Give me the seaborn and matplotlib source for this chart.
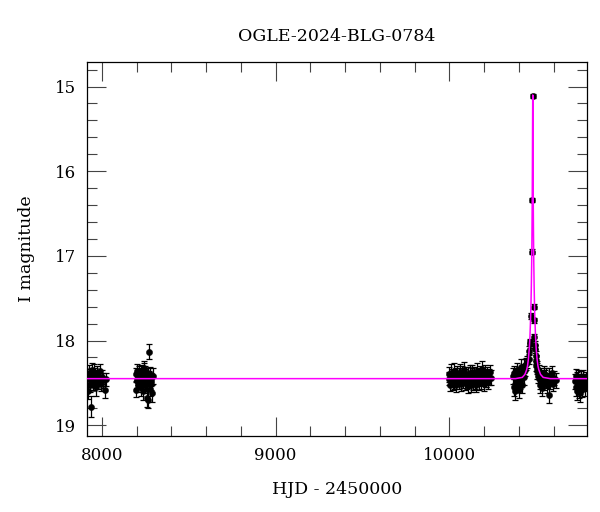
import numpy as np
import pandas as pd
import matplotlib
matplotlib.use("Agg")
from matplotlib import pyplot as plt
from matplotlib.ticker import MultipleLocator
import seaborn as sns

# observing seasons (HJD - 2450000, I mag, error)
t_s1 = [7922, 7925, 7928, 7931, 7934, 7937, 7940, 7943, 7946, 7950, 7953, 7956, 7960,
        7963, 7967, 7970, 7974, 7978, 7983, 7988, 7994, 8000, 8008, 8016, 8025]
m_s1 = [18.60, 18.42, 18.38, 18.47, 18.52, 18.78, 18.40, 18.35, 18.46, 18.50, 18.43, 18.37, 18.48,
        18.41, 18.55, 18.44, 18.39, 18.49, 18.45, 18.36, 18.51, 18.43, 18.47, 18.58, 18.46]
e_s1 = [0.09, 0.08, 0.09, 0.08, 0.09, 0.12, 0.08, 0.09, 0.08, 0.09, 0.08, 0.09, 0.08,
        0.09, 0.10, 0.08, 0.09, 0.08, 0.09, 0.08, 0.09, 0.08, 0.09, 0.10, 0.08]

t_s2 = [8196, 8199, 8202, 8205, 8208, 8211, 8214, 8217, 8220, 8223, 8226, 8229, 8232, 8235,
        8238, 8241, 8244, 8247, 8250, 8253, 8256, 8259, 8262, 8265, 8268, 8271, 8274, 8277,
        8280, 8283, 8286, 8289, 8292, 8203, 8245]
m_s2 = [18.58, 18.40, 18.47, 18.36, 18.52, 18.44, 18.39, 18.49, 18.42, 18.55, 18.37, 18.46, 18.50, 18.41,
        18.60, 18.34, 18.45, 18.53, 18.38, 18.48, 18.43, 18.68, 18.51, 18.40, 18.70, 18.13, 18.44, 18.57,
        18.39, 18.49, 18.46, 18.62, 18.42, 18.48, 18.33]
e_s2 = [0.09, 0.08, 0.09, 0.08, 0.09, 0.08, 0.09, 0.08, 0.09, 0.10, 0.08, 0.09, 0.08, 0.09,
        0.10, 0.08, 0.09, 0.09, 0.08, 0.09, 0.08, 0.10, 0.09, 0.08, 0.10, 0.09, 0.08, 0.09,
        0.08, 0.09, 0.08, 0.10, 0.09, 0.08, 0.09]

t_s3 = [9996, 10000, 10004, 10008, 10012, 10016, 10020, 10024, 10028, 10032, 10036, 10040,
        10044, 10048, 10052, 10056, 10060, 10064, 10068, 10072, 10076, 10080, 10084, 10088,
        10092, 10096, 10100, 10104, 10108, 10112, 10116, 10120, 10124, 10128, 10132, 10136,
        10140, 10144, 10148, 10152, 10156, 10160, 10164, 10168, 10172, 10176, 10180, 10184,
        10188, 10192, 10196, 10200, 10204, 10208, 10212, 10216, 10220, 10226, 10232, 10240]
m_s3 = [18.45, 18.40, 18.52, 18.38, 18.47, 18.43, 18.50, 18.36, 18.48, 18.44, 18.41, 18.53,
        18.39, 18.46, 18.42, 18.49, 18.37, 18.45, 18.51, 18.40, 18.44, 18.47, 18.35, 18.50,
        18.43, 18.39, 18.48, 18.54, 18.41, 18.46, 18.38, 18.45, 18.52, 18.42, 18.37, 18.49,
        18.44, 18.40, 18.47, 18.53, 18.36, 18.45, 18.41, 18.50, 18.43, 18.39, 18.46, 18.48,
        18.34, 18.44, 18.51, 18.42, 18.38, 18.47, 18.45, 18.40, 18.49, 18.43, 18.37, 18.44]
e_s3 = [0.08, 0.09, 0.08, 0.10, 0.08, 0.09, 0.08, 0.10, 0.09, 0.08, 0.09, 0.08,
        0.09, 0.08, 0.10, 0.08, 0.09, 0.08, 0.09, 0.10, 0.08, 0.09, 0.10, 0.08,
        0.09, 0.08, 0.09, 0.08, 0.10, 0.08, 0.09, 0.08, 0.09, 0.10, 0.08, 0.09,
        0.08, 0.09, 0.10, 0.08, 0.09, 0.08, 0.09, 0.08, 0.10, 0.09, 0.08, 0.09,
        0.10, 0.08, 0.09, 0.08, 0.09, 0.08, 0.10, 0.09, 0.08, 0.09, 0.08, 0.09]

t_s4 = [10366, 10370, 10374, 10378, 10382, 10386, 10390, 10394, 10398, 10402, 10406, 10410,
        10414, 10418, 10422, 10426, 10430, 10436, 10442, 10448,
        10456, 10460, 10463, 10466, 10469, 10474, 10476, 10479, 10486, 10488, 10489, 10491,
        10493, 10495, 10497, 10499,
        10502, 10506, 10510, 10514, 10518, 10522, 10526, 10530, 10534, 10538, 10542, 10546,
        10550, 10554, 10558, 10562, 10566, 10570, 10574, 10578, 10584, 10590, 10596, 10604, 10612]
m_s4 = [18.42, 18.55, 18.38, 18.60, 18.47, 18.35, 18.52, 18.44, 18.58, 18.40, 18.49, 18.31,
        18.46, 18.53, 18.37, 18.43, 18.30, 18.35, 18.28, 18.25,
        18.22, 18.12, 18.04, 18.02, 17.71, 16.95, 16.34, 15.11, 17.60, 17.76, 17.96, 18.05,
        18.10, 18.18, 18.24, 18.29,
        18.32, 18.36, 18.42, 18.38, 18.47, 18.53, 18.40, 18.45, 18.56, 18.43, 18.39, 18.50,
        18.44, 18.48, 18.41, 18.52, 18.46, 18.64, 18.42, 18.49, 18.45, 18.38, 18.51, 18.44, 18.47]
e_s4 = [0.09, 0.10, 0.08, 0.10, 0.09, 0.08, 0.09, 0.08, 0.10, 0.09, 0.08, 0.09,
        0.08, 0.09, 0.08, 0.09, 0.08, 0.07, 0.07, 0.07,
        0.06, 0.05, 0.05, 0.04, 0.03, 0.03, 0.02, 0.02, 0.03, 0.03, 0.04, 0.05,
        0.05, 0.06, 0.07, 0.07,
        0.08, 0.09, 0.08, 0.09, 0.10, 0.09, 0.08, 0.09, 0.10, 0.08, 0.09, 0.08,
        0.09, 0.08, 0.09, 0.10, 0.08, 0.10, 0.09, 0.08, 0.09, 0.08, 0.09, 0.08, 0.09]

t_s5 = [10722, 10725, 10728, 10731, 10734, 10737, 10740, 10743, 10746, 10749, 10752, 10755,
        10758, 10761, 10764, 10768, 10772, 10777, 10782, 10787]
m_s5 = [18.48, 18.55, 18.42, 18.60, 18.46, 18.52, 18.44, 18.58, 18.50, 18.47, 18.62, 18.45,
        18.53, 18.49, 18.57, 18.43, 18.51, 18.48, 18.56, 18.46]
e_s5 = [0.09, 0.10, 0.08, 0.10, 0.09, 0.08, 0.09, 0.10, 0.09, 0.08, 0.10, 0.09,
        0.08, 0.09, 0.10, 0.08, 0.09, 0.08, 0.10, 0.09]

# model light curve
t_model = [7900, 10380, 10419, 10434, 10444, 10449, 10454, 10459, 10463, 10467, 10469, 10471, 10473,
           10474, 10475, 10476, 10477, 10478, 10479, 10480, 10481, 10482, 10483, 10484, 10485,
           10487, 10489, 10491, 10495, 10499, 10504, 10509, 10514, 10524, 10539, 10580, 10800]
m_model = [18.45, 18.45, 18.435, 18.40, 18.345, 18.30, 18.22, 18.10, 17.95, 17.72, 17.56, 17.35, 17.07,
           16.89, 16.66, 16.38, 16.00, 15.50, 15.10, 15.50, 16.00, 16.38, 16.66, 16.89, 17.07,
           17.35, 17.56, 17.72, 17.95, 18.10, 18.22, 18.30, 18.345, 18.40, 18.435, 18.45, 18.45]

obs = pd.DataFrame({
    'hjd': t_s1 + t_s2 + t_s3 + t_s4 + t_s5,
    'mag': m_s1 + m_s2 + m_s3 + m_s4 + m_s5,
    'err': e_s1 + e_s2 + e_s3 + e_s4 + e_s5,
})
model = pd.DataFrame({'hjd': t_model, 'mag': m_model})

sns.set_style("ticks")
plt.rcParams['font.family'] = ['DejaVu Serif']
plt.rcParams['text.color'] = 'black'
plt.rcParams['axes.labelcolor'] = 'black'
plt.rcParams['xtick.color'] = 'black'
plt.rcParams['ytick.color'] = 'black'

fig = plt.figure(figsize=(6, 5.12), dpi=100)
ax = fig.add_axes([0.145, 0.148, 0.833, 0.731])

ax.errorbar(obs['hjd'], obs['mag'], yerr=obs['err'], fmt='none', ecolor='black',
            elinewidth=0.9, capsize=2.5, capthick=0.9, zorder=2)
sns.scatterplot(data=obs, x='hjd', y='mag', ax=ax, color='black', s=20,
                edgecolor='black', linewidth=0.3, zorder=3)
sns.lineplot(data=model, x='hjd', y='mag', ax=ax, color='#ff00ff', linewidth=1.1,
             sort=False, zorder=4)

ax.set_xlim(7915, 10790)
ax.set_ylim(19.13, 14.71)
ax.xaxis.set_major_locator(MultipleLocator(1000))
ax.xaxis.set_minor_locator(MultipleLocator(200))
ax.yaxis.set_major_locator(MultipleLocator(1))
ax.yaxis.set_minor_locator(MultipleLocator(0.2))
ax.tick_params(which='both', direction='in', top=True, right=True, width=0.8,
               color='#444444', labelsize=12, labelcolor='black')
ax.tick_params(which='major', length=14, pad=8)
ax.tick_params(which='minor', length=7)
for s in ax.spines.values():
    s.set_linewidth(0.9)
    s.set_color('black')

ax.set_xlabel('HJD - 2450000', fontsize=12.5, labelpad=12, color='black')
ax.set_ylabel('I magnitude', fontsize=12.5, labelpad=14, color='black')
ax.set_title('OGLE-2024-BLG-0784', fontsize=12.5, pad=15, color='black')

fig.savefig('out.png', dpi=100)
